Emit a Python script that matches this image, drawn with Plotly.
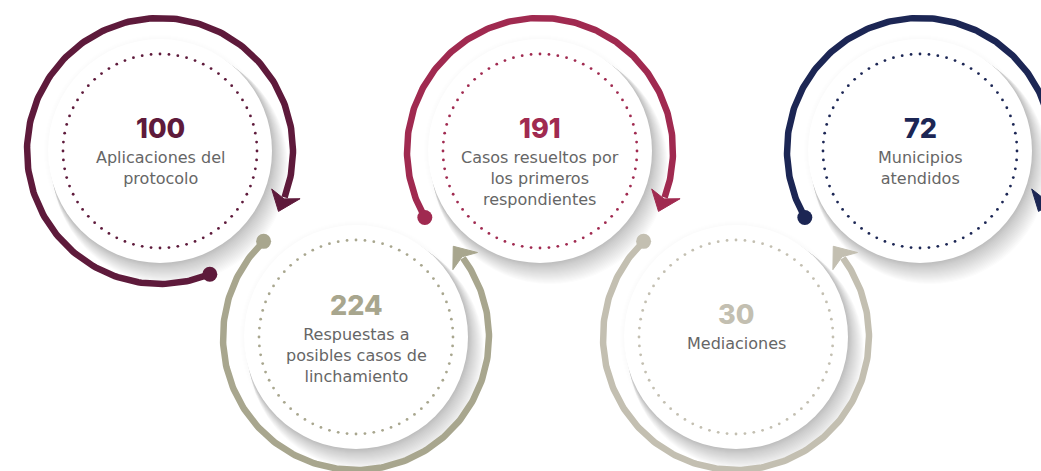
import numpy as np
import plotly.graph_objects as go

# ---- data ----
values = [100, 224, 191, 30, 72]
labels = [
    ["Aplicaciones del", "protocolo"],
    ["Respuestas a", "posibles casos de", "linchamiento"],
    ["Casos resueltos por", "los primeros", "respondientes"],
    ["Mediaciones"],
    ["Municipios", "atendidos"],
]
colors = ["#5e1a3b", "#a8a68e", "#a02a50", "#c3bfb1", "#1c2654"]

# ---- layout / style ----
W, H = 1041, 471
R_DISK, R_DOTS, R_ARC = 112, 97, 133
ARC_W = 6.5

def center(i):
    row = i % 2
    return 160 + 190 * i + 6 * row, 151 + 186 * row

# arc start / tip angles (screen degrees, y down) and travel direction
def arc_spec(i):
    if i % 2 == 1:
        return 226, -43, -1
    if i == 0:
        return 68, 387, 1
    return 150, 387, 1

text_shift = [0, -9, 0, 0, 0]

def polar(cx, cy, ang_deg, r):
    a = np.radians(ang_deg)
    return np.array([cx + r * np.cos(a), cy + r * np.sin(a)])

fig = go.Figure()
shapes = []

# shadows (offset stack toward lower right + faint halo)
for i in range(len(values)):
    cx, cy = center(i)
    for k in range(1, 21):
        ox, oy = 0.5 * k, 0.75 * k
        rr = R_DISK + 0.3 * k
        shapes.append(dict(type="circle", xref="x", yref="y", layer="below",
                           x0=cx + ox - rr, x1=cx + ox + rr, y0=cy + oy - rr, y1=cy + oy + rr,
                           fillcolor="rgba(70,70,90,0.014)", line=dict(width=0)))
    for k in range(4):
        rr = R_DISK + 1 + k
        shapes.append(dict(type="circle", xref="x", yref="y", layer="below",
                           x0=cx - rr, x1=cx + rr, y0=cy - rr, y1=cy + rr,
                           fillcolor="rgba(70,70,90,0.007)", line=dict(width=0)))
# disks
for i in range(len(values)):
    cx, cy = center(i)
    shapes.append(dict(type="circle", xref="x", yref="y", layer="below",
                       x0=cx - R_DISK, x1=cx + R_DISK, y0=cy - R_DISK, y1=cy + R_DISK,
                       fillcolor="white", line=dict(width=0)))

annotations = []
for i, (v, lab, col) in enumerate(zip(values, labels, colors)):
    cx, cy = center(i)
    # dotted ring
    n = 68
    t = np.linspace(0, 2 * np.pi, n, endpoint=False)
    fig.add_trace(go.Scatter(x=cx + R_DOTS * np.cos(t), y=cy + R_DOTS * np.sin(t),
                             mode="markers", marker=dict(size=2.8, color=col),
                             hoverinfo="skip", showlegend=False))
    # arc
    a0, a1, d = arc_spec(i)
    L = 19
    dl = np.degrees(L / R_ARC)
    a_end_line = a1 - d * dl * 0.8
    th = np.radians(np.linspace(a0, a_end_line, 240))
    fig.add_trace(go.Scatter(x=cx + R_ARC * np.cos(th), y=cy + R_ARC * np.sin(th),
                             mode="lines", line=dict(color=col, width=ARC_W),
                             hoverinfo="skip", showlegend=False))
    # start dot
    p0 = polar(cx, cy, a0, R_ARC)
    fig.add_trace(go.Scatter(x=[p0[0]], y=[p0[1]],
                             mode="markers", marker=dict(size=15, color=col),
                             hoverinfo="skip", showlegend=False))
    # arrowhead (chevron following the curve)
    Wg = 15
    tip = polar(cx, cy, a1, R_ARC)
    p1 = polar(cx, cy, a1 - d * dl, R_ARC + Wg)
    p2 = polar(cx, cy, a1 - d * dl * 0.72, R_ARC)
    p3 = polar(cx, cy, a1 - d * dl, R_ARC - Wg)
    poly = np.array([tip, p1, p2, p3, tip])
    fig.add_trace(go.Scatter(x=poly[:, 0], y=poly[:, 1], mode="lines", fill="toself",
                             fillcolor=col, line=dict(color=col, width=1),
                             hoverinfo="skip", showlegend=False))
    # texts
    s = text_shift[i]
    annotations.append(dict(x=cx, y=cy - 23 + s, xref="x", yref="y", text=str(v),
                            showarrow=False, xanchor="center", yanchor="middle",
                            font=dict(family="Inter, Lato, sans-serif", size=27, color=col, weight=800)))
    annotations.append(dict(x=cx, y=cy - 5 + s, xref="x", yref="y", text="<br>".join(lab),
                            showarrow=False, xanchor="center", yanchor="top", align="center",
                            font=dict(family="DejaVu Sans, sans-serif", size=16, color="#666666")))

fig.update_layout(
    width=W, height=H, autosize=False,
    margin=dict(l=0, r=0, t=0, b=0),
    paper_bgcolor="white", plot_bgcolor="white",
    xaxis=dict(range=[0, W], visible=False, fixedrange=True),
    yaxis=dict(range=[H, 0], visible=False, fixedrange=True),
    shapes=shapes, annotations=annotations, showlegend=False,
)

fig.write_html("out.html", config={"displayModeBar": False},
               post_script="document.body.style.margin='0';document.body.style.overflow='hidden';")
